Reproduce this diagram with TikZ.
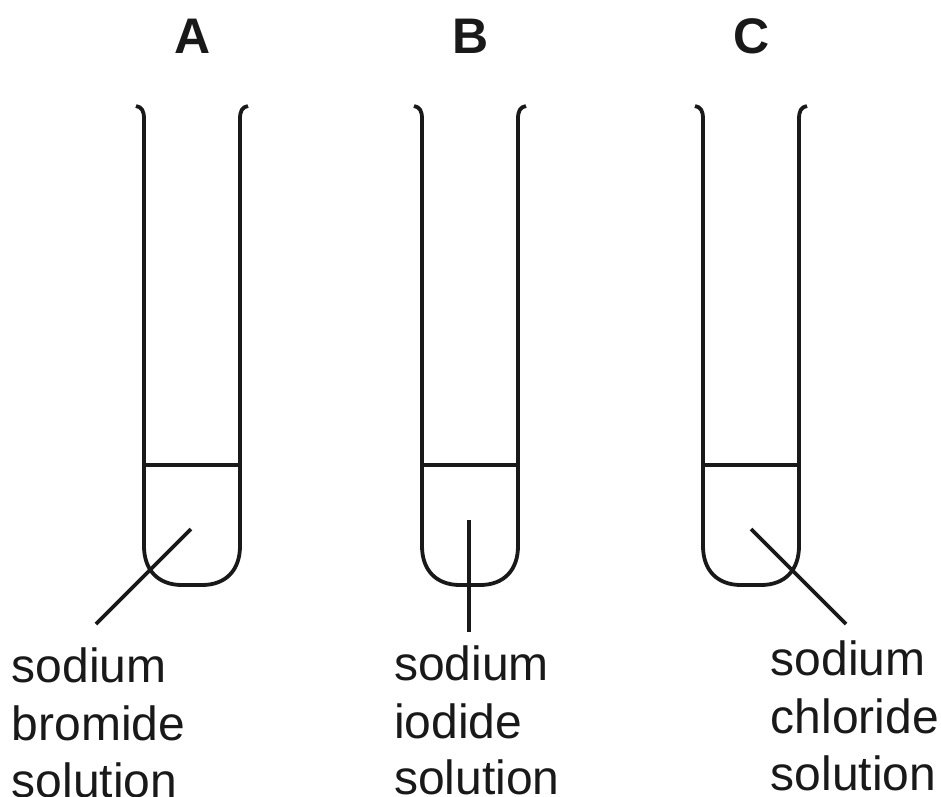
\documentclass[tikz,border=0pt]{standalone}
\usepackage{fontspec}
\setmainfont{Liberation Sans}
\tikzset{
  tube/.style={line width=3.8pt,draw=black!90,line join=round},
  lead/.style={line width=3.6pt,draw=black!90},
  lab/.style={font=\fontsize{48}{48}\selectfont,anchor=base west,inner sep=0pt,text=black!90},
  head/.style={font=\bfseries\fontsize{50}{50}\selectfont,anchor=base,inner sep=0pt,text=black!90}
}
\newcommand{\tubeat}[1]{%
  \draw[tube] (#1-8,-106) .. controls (#1-2,-107) and (#1,-111) .. (#1,-119) -- (#1,-546)
    .. controls (#1,-570) and (#1+14,-585) .. (#1+38,-585) -- (#1+58,-585)
    .. controls (#1+82,-585) and (#1+96,-570) .. (#1+96,-546) -- (#1+96,-119)
    .. controls (#1+96,-111) and (#1+98,-107) .. (#1+104,-106);
  \draw[tube] (#1,-465) -- (#1+96,-465);
}
\begin{document}
\begin{tikzpicture}[x=1pt,y=1pt]
\useasboundingbox (0,0) rectangle (941,-796);
\tubeat{144}
\tubeat{422}
\tubeat{703}
\node[head] (ha) at (193,-53) {A};
\node[head] (hb) at (470.5,-53) {B};
\node[head] (hc) at (752,-53) {C};
\coordinate (a1) at (191,-529); \coordinate (a2) at (96,-624);
\coordinate (b1) at (469,-520); \coordinate (b2) at (469,-632);
\coordinate (c1) at (751,-529); \coordinate (c2) at (846,-624);
\draw[lead] (a1) -- (a2);
\draw[lead] (b1) -- (b2);
\draw[lead] (c1) -- (c2);
\node[lab] (a3) at (11.5,-682) {sodium};
\node[lab] (a4) at (11.5,-740) {bromide};
\node[lab] (a5) at (11.5,-797) {solution};
\node[lab] (b3) at (394,-680) {sodium};
\node[lab] (b4) at (394,-738) {iodide};
\node[lab] (b5) at (394,-794.5) {solution};
\node[lab] (c3) at (770.5,-675) {sodium};
\node[lab] (c4) at (770.5,-733) {chloride};
\node[lab] (c5) at (770.5,-790) {solution};
\end{tikzpicture}
\end{document}
